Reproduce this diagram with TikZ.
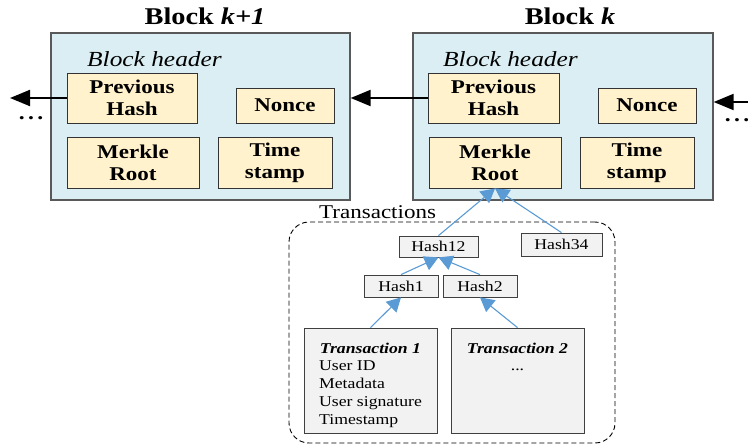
\documentclass[tikz,border=0pt]{standalone}
\usepackage{fontspec}
\setmainfont[FakeStretch=1.18]{Liberation Serif}
\usetikzlibrary{arrows.meta}

\definecolor{blockfill}{HTML}{DAEEF3}
\definecolor{fieldfill}{HTML}{FFF2CC}
\definecolor{hashfill}{HTML}{F2F2F2}
\definecolor{treeblue}{HTML}{5B9BD5}

\begin{document}
\begin{tikzpicture}[x=1pt, y=-1pt,
    block/.style={draw=black!65, line width=1.3pt, fill=blockfill, inner sep=0pt},
    field/.style={draw=black!80, line width=0.8pt, fill=fieldfill, inner sep=0pt, align=center,
                  font=\fontsize{19.5}{22}\selectfont\bfseries},
    hashbox/.style={draw=black!75, line width=0.8pt, fill=hashfill, inner sep=0pt,
                    font=\fontsize{15}{17.7}\selectfont},
    chain/.style={line width=2pt, -{Triangle[length=20pt,width=16pt]}},
    tree/.style={treeblue, line width=1.1pt, -{Triangle[length=14pt,width=15pt]}}]
    \useasboundingbox (0,0) rectangle (748,447);

    % block k+1
    \node[block, minimum width=299pt, minimum height=167pt] (blk1) at (200.5,116.5) {};
    \node[font=\fontsize{24}{28}\selectfont\bfseries] (title1) at (205,16) {Block \textit{k+1}};
    \node[anchor=west, inner sep=0pt, font=\fontsize{21.5}{24}\selectfont\itshape] (hdr1) at (87,59) {Block header};
    \node[field, minimum width=130pt, minimum height=50pt] (prev1) at (132,98) {Previous\\Hash};
    \node[field, minimum width=98pt, minimum height=35pt] (nonce1) at (285,105.5) {Nonce};
    \node[field, minimum width=132pt, minimum height=51pt] (merkle1) at (133,162.5) {Merkle\\Root};
    \node[field, minimum width=114pt, minimum height=51pt] (time1) at (275,162.5) {Time\\stamp};

    % block k
    \node[block, minimum width=300pt, minimum height=167pt] (blk0) at (563,116.5) {};
    \node[font=\fontsize{24}{28}\selectfont\bfseries] (title0) at (570,16) {Block \textit{k}};
    \node[anchor=west, inner sep=0pt, font=\fontsize{21.5}{24}\selectfont\itshape] (hdr0) at (443,59) {Block header};
    \node[field, minimum width=131pt, minimum height=50pt] (prev0) at (493.5,98) {Previous\\Hash};
    \node[field, minimum width=98pt, minimum height=35pt] (nonce0) at (647,105.5) {Nonce};
    \node[field, minimum width=132pt, minimum height=51pt] (merkle0) at (495,162.5) {Merkle\\Root};
    \node[field, minimum width=114pt, minimum height=51pt] (time0) at (637,162.5) {Time\\stamp};

    % chain links
    \coordinate (chainleft) at (10,98);
    \coordinate (chainright) at (748,102);
    \draw[chain] (prev1.west) -- (chainleft);
    \draw[chain] (prev0.west) -- (prev0.west -| blk1.east);
    \draw[chain] (chainright) -- (chainright -| blk0.east);
    \node[font=\fontsize{20}{22}\selectfont\bfseries] (ldots) at (31,118) {.\,.\,.};
    \node[font=\fontsize{20}{22}\selectfont\bfseries] (rdots) at (737,120) {.\,.\,.};

    % transactions
    \node[draw, dash pattern=on 5pt off 3pt, line width=0.9pt, rounded corners=20pt,
          minimum width=326pt, minimum height=221pt] (txframe) at (452,332.5) {};
    \node[anchor=west, inner sep=0pt, font=\fontsize{19.5}{22}\selectfont] (txlabel) at (319,212) {Transactions};

    \node[hashbox, minimum width=79pt, minimum height=21pt] (h12) at (438.5,246.5) {Hash12};
    \node[hashbox, minimum width=81pt, minimum height=23pt] (h34) at (561.5,244.5) {Hash34};
    \node[hashbox, minimum width=74pt, minimum height=22pt] (h1) at (401,286) {Hash1};
    \node[hashbox, minimum width=74pt, minimum height=22pt] (h2) at (480,286) {Hash2};
    \node[hashbox, minimum width=133pt, minimum height=105pt] (tx1) at (370.5,380.5) {};
    \node[hashbox, minimum width=133pt, minimum height=105pt] (tx2) at (517.5,380.5) {};
    \node[anchor=north, inner sep=0pt, align=center, font=\fontsize{15}{17.7}\selectfont] (tx1text)
        at ([yshift=-15pt]tx1.north) {\textbf{\textit{Transaction 1}}\\
        \begin{tabular}[t]{@{}l@{}}User ID\\ Metadata\\ User signature\\ Timestamp\end{tabular}};
    \node[anchor=north, inner sep=0pt, align=center, font=\fontsize{15}{17.7}\selectfont] (tx2text)
        at ([yshift=-15pt]tx2.north) {\textbf{\textit{Transaction 2}}\\ ...};

    % merkle tree
    \draw[tree] (h12.north) -- (merkle0.south);
    \draw[tree] (h34.north) -- (merkle0.south);
    \draw[tree] (h1.north) -- (h12.south);
    \draw[tree] (h2.north) -- (h12.south);
    \draw[tree] (tx1.north) -- (h1.south);
    \draw[tree] (tx2.north) -- (h2.south);
\end{tikzpicture}
\end{document}
